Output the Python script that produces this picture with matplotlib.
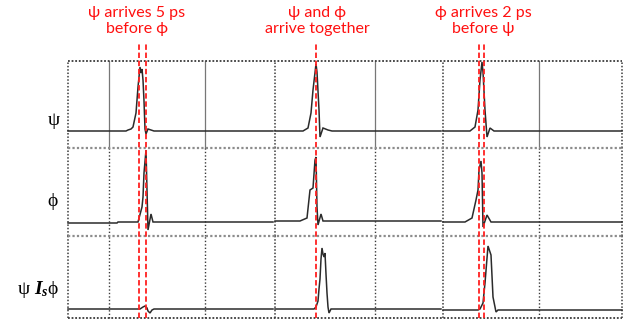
import matplotlib
matplotlib.use("Agg")
import matplotlib.pyplot as plt

# ---------------- data ----------------
# time axis in screen units (0 = left edge of the scope display)
x_min, x_max = 0, 554
group_spans = [(0, 205), (207, 373), (375, 554)]

grid_inner = [41, 137, 307, 471]        # grid divisions inside each screen
grid_screen = [207, 375]                # screen joins

red_marks = [71, 78, 248, 411, 416]     # arrival markers
titles = ["ψ arrives 5 ps\nbefore ϕ", "ψ and ϕ\narrive together", "ϕ arrives 2 ps\nbefore ψ"]
title_x = [69, 249, 415]

row_labels = ["ψ", "ϕ", "ψ $\\mathbf{I_s}$ϕ"]

# panel value ranges (baseline = 0)
panel_ylim = [(-17, 70), (-13, 75), (-9, 73)]

# ψ trace
psi1_t = [0, 58, 60, 63, 65, 68, 70, 72, 73, 74, 75, 76, 77, 78, 80, 83, 86, 205]
psi1_v = [0, 0, 1, 2, 4, 18, 44, 64, 58, 62, 51, 30, 2, -3, 2, 1, 0, 0]
psi2_t = [207, 235, 240, 243, 245, 248, 249, 251, 252, 255, 260, 264, 373]
psi2_v = [0, 0, 3, 18, 41, 67, 59, 21, -6, 3, 1, 0, 0]
psi3_t = [375, 402, 407, 410, 412, 414, 415, 417, 419, 422, 426, 554]
psi3_v = [0, 0, 4, 21, 51, 69, 59, 21, -6, 3, 0, 0]

# ϕ trace
phi1_t = [0, 49, 50, 70, 74, 75, 76, 78, 79, 80, 83, 85, 205]
phi1_v = [0, 0, 1, 1, 16, 26, 50, 73, 33, -7, 9, 1, 1]
phi2_t = [207, 232, 239, 242, 245, 247, 248, 249, 250, 253, 255, 373]
phi2_v = [2, 2, 5, 33, 35, 63, 66, 16, -2, 9, 2, 2]
phi3_t = [375, 397, 404, 408, 410, 411, 413, 414, 415, 419, 423, 554]
phi3_v = [1, 1, 5, 23, 33, 53, 62, 50, -4, 8, 1, 1]

# ψ Is ϕ trace
out1_t = [0, 72, 75, 77, 79, 80, 82, 84, 86, 205]
out1_v = [0, 0, 2, 3, 1, -2, -4, -1, 0, 0]
out2_t = [207, 246, 248, 250, 251, 252, 253, 254, 255, 256, 257, 258, 259, 260, 261, 263, 373]
out2_v = [0, 0, 2, 8, 20, 30, 50, 61, 55, 52, 56, 35, 16, 2, -4, 0, 0]
out3_t = [375, 410, 412, 415, 417, 420, 423, 425, 428, 430, 554]
out3_v = [-1, -1, 0, 6, 26, 63, 54, 12, -3, -1, -1]

traces = [
    [(psi1_t, psi1_v), (psi2_t, psi2_v), (psi3_t, psi3_v)],
    [(phi1_t, phi1_v), (phi2_t, phi2_v), (phi3_t, phi3_v)],
    [(out1_t, out1_v), (out2_t, out2_v), (out3_t, out3_v)],
]

# ---------------- layout ----------------
W, H = 630, 323
plt.rcParams['mathtext.fontset'] = 'custom'
plt.rcParams['mathtext.bf'] = 'Liberation Serif:italic:bold'
plt.rcParams['mathtext.rm'] = 'Liberation Serif'

fig = plt.figure(figsize=(W / 100, H / 100), dpi=100)
left_px, right_px = 68, 622
rows_px = [(61, 148), (148, 236), (236, 318)]
label_y_px = [120, 202, 290]
label_x_px = [54, 52, 38]

dark = '#3a3a3a'
for r, (top, bot) in enumerate(rows_px):
    ax = fig.add_axes([left_px / W, 1 - bot / H, (right_px - left_px) / W, (bot - top) / H])
    ax.set_xlim(x_min, x_max)
    ax.set_ylim(*panel_ylim[r])
    ax.axis('off')
    ylo, yhi = panel_ylim[r]
    # vertical grid
    for x in grid_inner:
        if r == 0:
            ax.axvline(x, color='#777777', lw=0.9, clip_on=False)
        else:
            ax.axvline(x, color=dark, lw=1.0, ls=(0, (1, 1.5)), clip_on=False)
    for x in grid_screen + [x_min, x_max]:
        ax.axvline(x, color=dark, lw=1.1, ls=(0, (1, 1.2)), clip_on=False)
    # horizontal borders
    if r == 0:
        ax.axhline(yhi, color=dark, lw=1.3, ls=(0, (1, 1)), clip_on=False)
    else:
        ax.axhline(yhi, color='#8c8c8c', lw=1.6, ls=(0, (1, 1)), clip_on=False)
    if r == 2:
        ax.axhline(ylo, color=dark, lw=1.3, ls=(0, (1, 1)), clip_on=False)
    # traces
    for t, v in traces[r]:
        ax.plot(t, v, color='#2b2b2b', lw=1.1, solid_joinstyle='miter', clip_on=False)
    # row label
    fig.text(label_x_px[r] / W, 1 - label_y_px[r] / H, row_labels[r],
             ha='center', va='center', fontsize=14, family=['Liberation Serif', 'DejaVu Serif'])

# overlay for markers and titles
ov = fig.add_axes([left_px / W, 1 - 318 / H, (right_px - left_px) / W, (318 - 42) / H])
ov.set_xlim(x_min, x_max)
ov.set_ylim(0, 1)
ov.axis('off')
for x in red_marks:
    ov.axvline(x, color='#ff2020', lw=1.3, ls=(0, (3, 1.5)))
for tx, s in zip(title_x, titles):
    fig.text((left_px + tx) / W, 1 - 21 / H, s, ha='center', va='center',
             color='#ff1010', fontsize=11.5, linespacing=1.25, family=['Lato', 'DejaVu Sans'])

fig.savefig('out.png', dpi=100)
